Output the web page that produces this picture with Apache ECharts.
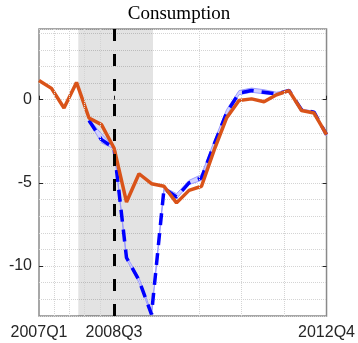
<!DOCTYPE html>
<html>
<head>
<meta charset="utf-8">
<script src="https://cdn.jsdelivr.net/npm/echarts@6/dist/echarts.min.js"></script>
<style>
html,body{margin:0;padding:0;background:#fff;}
#chart{width:358px;height:343px;}
</style>
</head>
<body>
<div id="chart"></div>
<script>
// Quarter categories (index 0 = 2007Q1 ... 23 = 2012Q4)
const quarters = ['2007Q1','2007Q2','2007Q3','2007Q4','2008Q1','2008Q2','2008Q3','2008Q4',
  '2009Q1','2009Q2','2009Q3','2009Q4','2010Q1','2010Q2','2010Q3','2010Q4',
  '2011Q1','2011Q2','2011Q3','2011Q4','2012Q1','2012Q2','2012Q3','2012Q4'];
const xTickQuarters = [0, 6, 23];
const yTickValues = [-10, -5, 0];

// Actual consumption (orange)
const actual = [1.16, 0.68, -0.5, 1.04, -1.1, -1.5, -2.9, -6.15, -4.45, -5.05, -5.2, -6.2,
  -5.45, -5.2, -3.05, -1.1, -0.05, 0.05, -0.12, 0.3, 0.55, -0.65, -0.8, -2.1];
// Counterfactual (blue dashed)
const counterfactual = [null, null, null, null, -1.25, -2.4, -2.9, -9.5, -10.85, -12.9, -5.35, -5.85,
  -5.0, -4.7, -2.7, -0.8, 0.4, 0.55, 0.45, 0.35, 0.55, -0.6, -0.75, -2.1];
// Band around counterfactual
const bandHigh = [null, null, null, null, -1.2, -2.05, -2.85, -9.4, -10.7, -12.8, -5.25, -5.65,
  -4.85, -4.5, -2.5, -0.6, 0.55, 0.7, 0.6, 0.45, 0.58, -0.55, -0.7, -2.05];
const bandLow = [null, null, null, null, -1.3, -2.6, -2.95, -9.6, -11.0, -12.95, -5.45, -5.95,
  -5.1, -4.85, -2.85, -0.95, 0.3, 0.45, 0.35, 0.3, 0.52, -0.65, -0.8, -2.15];

// Recession shading (quarter-index units) and event marker
const recession = [3.14, 9.12];
const eventQuarter = 6;
// Vertical dotted grid positions (quarter-index units)
const vGrid = [1.2, 2.42, 3.62, 4.87, 12.78, 16.19, 19.59];

const idx = quarters.map((q, i) => i);
const pair = arr => idx.map(i => [i, arr[i]]);

const chart = echarts.init(document.getElementById('chart'), null, {renderer: 'canvas'});
const labelStyle = {color: '#262626', fontSize: 16, fontFamily: 'Liberation Sans, Arial, sans-serif'};

function renderBand(params, api) {
  const upper = [], lower = [];
  idx.forEach(i => {
    if (bandHigh[i] != null) upper.push(api.coord([i, bandHigh[i]]));
    if (bandLow[i] != null) lower.push(api.coord([i, bandLow[i]]));
  });
  const pts = upper.concat(lower.reverse());
  return {
    type: 'polygon',
    shape: {points: pts},
    style: {fill: '#d2d2ff', stroke: '#9a9aff', lineWidth: 1}
  };
}

chart.setOption({
  animation: false,
  backgroundColor: '#fff',
  title: {
    text: 'Consumption',
    left: 'center',
    top: 0,
    padding: [5, 0, 0, 8],
    textStyle: {fontFamily: 'Liberation Serif, Times New Roman, serif', fontWeight: 'normal', fontSize: 19, color: '#000'}
  },
  grid: {left: 39, right: 31, top: 29, bottom: 27, show: true, borderColor: '#8a8a8a', borderWidth: 1.5, backgroundColor: 'transparent'},
  xAxis: [{
    type: 'value', min: 0, max: 23,
    axisLine: {show: false},
    splitLine: {show: false},
    axisTick: {customValues: xTickQuarters, inside: true, length: 4, lineStyle: {color: '#262626'}},
    axisLabel: Object.assign({customValues: xTickQuarters, margin: 9, formatter: v => quarters[Math.round(v)]}, labelStyle)
  }],
  yAxis: [{
    type: 'value', min: -13, max: 4.25, interval: 1,
    axisLine: {show: false},
    axisTick: {show: false},
    splitLine: {show: true, lineStyle: {type: 'dotted', color: '#d4d4d4', width: 1}},
    axisLabel: Object.assign({customValues: yTickValues, margin: 7}, labelStyle)
  }, {
    type: 'value', min: -13, max: 4.25, position: 'left',
    axisLine: {show: false}, splitLine: {show: false}, axisLabel: {show: false},
    axisTick: {customValues: yTickValues, inside: true, length: 4, lineStyle: {color: '#262626'}}
  }, {
    type: 'value', min: -13, max: 4.25, position: 'right',
    axisLine: {show: false}, splitLine: {show: false}, axisLabel: {show: false},
    axisTick: {customValues: yTickValues, inside: true, length: 4, lineStyle: {color: '#262626'}}
  }],
  series: [
    {
      type: 'line', name: 'grid', data: [], silent: true, z: 1,
      markArea: {silent: true, itemStyle: {color: 'rgba(0,0,0,0.11)'},
        data: [[{xAxis: recession[0]}, {xAxis: recession[1]}]]},
      markLine: {silent: true, symbol: ['none', 'none'], label: {show: false},
        lineStyle: {type: 'dotted', color: '#d4d4d4', width: 1},
        data: vGrid.map(v => ({xAxis: v}))}
    },
    {
      type: 'custom', name: 'band', data: [[0, 0]], renderItem: renderBand,
      z: 2, silent: true, clip: true
    },
    {
      type: 'line', name: 'counterfactual', data: pair(counterfactual),
      showSymbol: false, symbol: 'none', z: 3,
      lineStyle: {color: '#0000ff', width: 3.5, type: [12, 8]}
    },
    {
      type: 'line', name: 'actual', data: pair(actual),
      showSymbol: false, symbol: 'none', z: 4,
      lineStyle: {color: '#d95319', width: 3.5}
    },
    {
      type: 'line', name: 'event', data: [], z: 5, silent: true,
      markLine: {silent: true, symbol: ['none', 'none'], label: {show: false},
        lineStyle: {type: [12, 13], color: '#000', width: 3},
        data: [{xAxis: eventQuarter}]}
    }
  ]
});
</script>
</body>
</html>
